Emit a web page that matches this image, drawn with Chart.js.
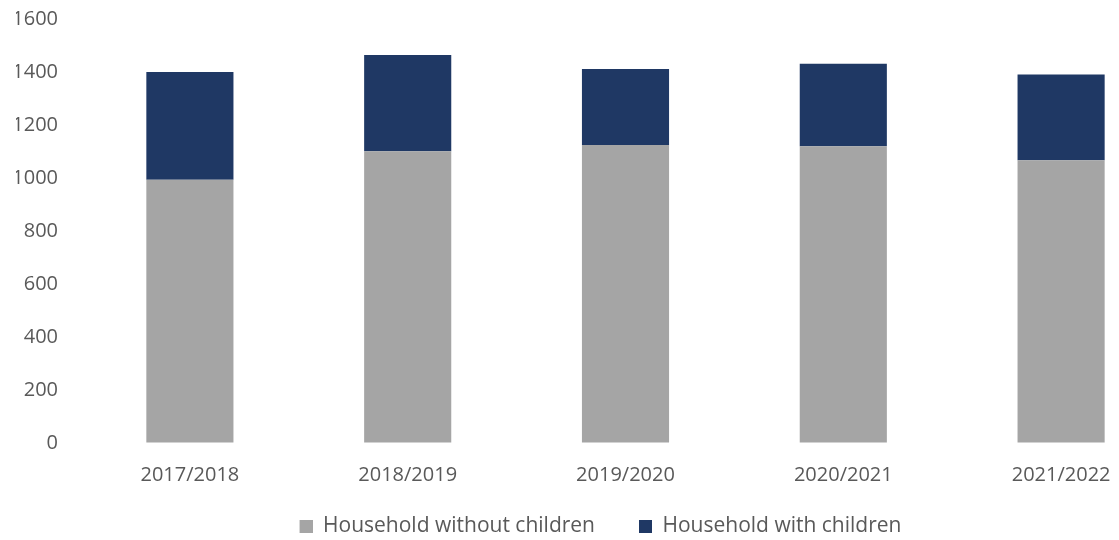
<!DOCTYPE html>
<html>
<head>
<meta charset="utf-8">
<script src="https://cdn.jsdelivr.net/npm/chart.js@4"></script>
<style>
  html, body { margin: 0; padding: 0; background: #fff; overflow: hidden; }
  #wrap { width: 1198px; height: 547px; position: relative; }
</style>
</head>
<body>
<div id="wrap"><canvas id="chart"></canvas></div>
<script>
// school years on the x axis
var years = ['2017/2018', '2018/2019', '2019/2020', '2020/2021', '2021/2022'];
// households, stacked
var withoutChildren = [993, 1101, 1125, 1120, 1067];
var withChildren = [407, 363, 286, 311, 324];
var yTicks = [0, 200, 400, 600, 800, 1000, 1200, 1400, 1600];

var seriesNames = ['Household without children', 'Household with children'];
var seriesColors = ['#A5A5A5', '#1F3864'];

var textColor = '#595959';
var tickFont = { family: "'Open Sans', sans-serif", size: 20 };
var legendFont = { family: "'Open Sans', sans-serif", size: 21 };

// legend marker: square on the right, blank lead-in on the left gives the gap between items
var markerLead = 15, markerSize = 13;
function legendMarker(color) {
    var c = document.createElement('canvas');
    c.width = markerLead + markerSize;
    c.height = markerSize;
    var ctx = c.getContext('2d');
    ctx.fillStyle = color;
    ctx.fillRect(markerLead, 0, markerSize, markerSize);
    return c;
}
var markers = seriesColors.map(legendMarker);

var chart = new Chart(document.getElementById('chart').getContext('2d'), {
    type: 'bar',
    data: {
        labels: years,
        datasets: [{
            label: seriesNames[0],
            data: withoutChildren,
            backgroundColor: seriesColors[0],
            borderWidth: 0
        }, {
            label: seriesNames[1],
            data: withChildren,
            backgroundColor: seriesColors[1],
            borderWidth: 0
        }]
    },
    options: {
        responsive: true,
        maintainAspectRatio: false,
        animation: false,
        datasets: {
            bar: { categoryPercentage: 1.0, barPercentage: 0.4 }
        },
        layout: { padding: { left: 16, right: 28, top: 19, bottom: 0 } },
        plugins: {
            legend: {
                position: 'bottom',
                labels: {
                    color: textColor,
                    font: legendFont,
                    usePointStyle: true,
                    pointStyleWidth: markerLead + markerSize,
                    boxHeight: markerSize,
                    padding: 29,
                    generateLabels: function (chart) {
                        var items = Chart.defaults.plugins.legend.labels.generateLabels(chart);
                        items.forEach(function (it) { it.pointStyle = markers[it.datasetIndex]; });
                        return items;
                    }
                }
            },
            tooltip: { enabled: false }
        },
        scales: {
            x: {
                stacked: true,
                grid: { display: false, drawTicks: false },
                border: { display: false },
                ticks: { color: textColor, font: tickFont, padding: 20 },
                afterFit: function (scale) { scale.height = 44; }
            },
            y: {
                stacked: true,
                min: 0,
                max: 1600,
                afterBuildTicks: function (scale) {
                    scale.ticks = yTicks.map(function (v) { return { value: v }; });
                },
                afterFit: function (scale) { scale.width = 65; },
                grid: {
                    display: true,
                    drawOnChartArea: false,
                    drawTicks: true,
                    tickLength: 23,
                    color: 'rgba(0,0,0,0)'
                },
                border: { display: false },
                ticks: {
                    color: textColor,
                    font: tickFont,
                    padding: 0,
                    callback: function (v) { return String(v); }
                }
            }
        }
    }
});
</script>
</body>
</html>
